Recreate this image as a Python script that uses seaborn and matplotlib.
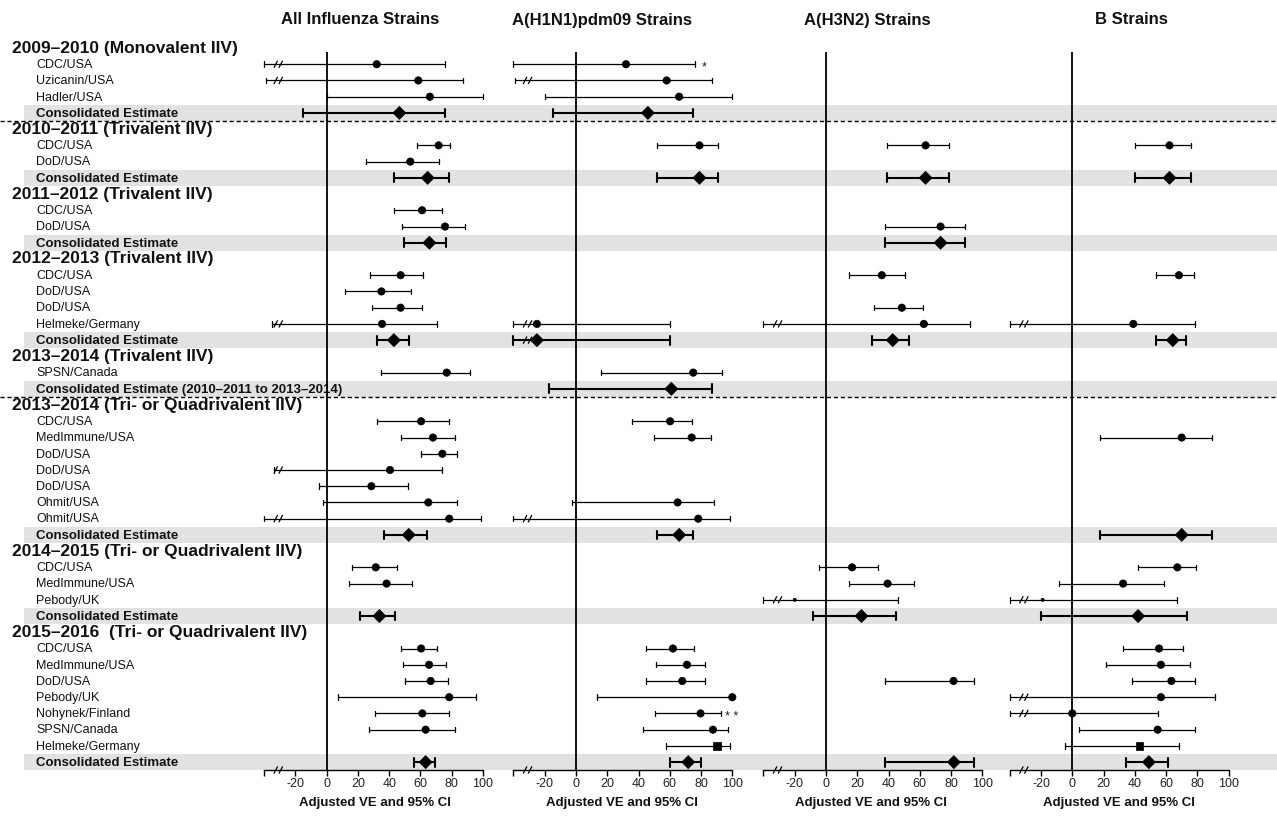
import numpy as np
import pandas as pd
import matplotlib
matplotlib.use("Agg")
import matplotlib.pyplot as plt
import seaborn as sns

# ---------------- data ----------------
row_labels = [
    "2009\u20132010 (Monovalent IIV)", "CDC/USA", "Uzicanin/USA", "Hadler/USA", "Consolidated Estimate",
    "2010\u20132011 (Trivalent IIV)", "CDC/USA", "DoD/USA", "Consolidated Estimate",
    "2011\u20132012 (Trivalent IIV)", "CDC/USA", "DoD/USA", "Consolidated Estimate",
    "2012\u20132013 (Trivalent IIV)", "CDC/USA", "DoD/USA", "DoD/USA", "Helmeke/Germany", "Consolidated Estimate",
    "2013\u20132014 (Trivalent IIV)", "SPSN/Canada", "Consolidated Estimate (2010\u20132011 to 2013\u20132014)",
    "2013\u20132014 (Tri- or Quadrivalent IIV)", "CDC/USA", "MedImmune/USA", "DoD/USA", "DoD/USA", "DoD/USA",
    "Ohmit/USA", "Ohmit/USA", "Consolidated Estimate",
    "2014\u20132015 (Tri- or Quadrivalent IIV)", "CDC/USA", "MedImmune/USA", "Pebody/UK", "Consolidated Estimate",
    "2015\u20132016  (Tri- or Quadrivalent IIV)", "CDC/USA", "MedImmune/USA", "DoD/USA", "Pebody/UK",
    "Nohynek/Finland", "SPSN/Canada", "Helmeke/Germany", "Consolidated Estimate",
]
header_rows = [0, 5, 9, 13, 19, 22, 31, 36]
consol_rows = [4, 8, 12, 18, 21, 30, 35, 44]
dashed_after = [4, 21]

panel_titles = ["All Influenza Strains", "A(H1N1)pdm09 Strains", "A(H3N2) Strains", "B Strains"]

all_rows = [1, 2, 3, 4, 6, 7, 8, 10, 11, 12, 14, 15, 16, 17, 18, 20, 23, 24, 25, 26, 27, 28, 29, 30,
            32, 33, 35, 37, 38, 39, 40, 41, 42, 44]
all_ve = [32, 58.6, 66, 46.5, 71.6, 53.5, 64.6, 61, 75.7, 65.7, 47.3, 35, 47.3, 35.4, 43, 76.8,
          60.4, 68, 74, 40.5, 28.6, 65, 78.4, 52.5, 31.4, 38.3, 33.7, 60.4, 65.5, 66.5, 78.4, 61.2, 63.3, 63.3]
all_lo = [-40, -39, 0.5, -15, 58, 25, 43, 43, 48.4, 49.5, 28, 12, 29, -35, 32, 35,
          32.4, 47.7, 60.4, -34, -4.7, -2.5, -40, 36.4, 16.5, 14.2, 21.6, 47.7, 48.5, 50.2, 7.2, 31, 27.3, 56]
all_hi = [76, 87, 100, 75.5, 79, 71.6, 78.5, 74, 88.7, 76.3, 61.6, 53.7, 60.8, 70.6, 52.5, 91.7,
          78, 81.8, 83.5, 73.5, 51.7, 83.5, 98.7, 64.4, 44.7, 54.7, 43.9, 70.3, 76.5, 77.5, 95.8, 78.4, 81.8, 69.5]
all_brk = [1, 2, 17, 26, 29]

h1_rows = [1, 2, 3, 4, 6, 8, 17, 18, 20, 21, 23, 24, 28, 29, 30, 37, 38, 39, 40, 41, 42, 43, 44]
h1_ve = [32, 58, 66, 46, 79, 79, -25, -25, 75, 61, 60.2, 74, 65, 78.2, 66, 62, 71, 68, 100, 79.7, 87.6, 90.2, 71.8]
h1_lo = [-40, -39, -20, -15, 51.8, 51.8, -40, -40, 16, -17, 36, 50, -2.8, -40, 52, 44.5, 51.3, 44.5, 13.4, 50.5, 43, 57.6, 60]
h1_hi = [76, 87, 99.6, 75, 91, 91, 60, 60, 93.4, 87, 74, 86.2, 88, 98.3, 75, 75.4, 82.4, 82.4, 100, 92.5, 97, 98.5, 79.9]
h1_brk = [2, 17, 18, 29]

h3_rows = [6, 8, 11, 12, 14, 16, 17, 18, 32, 33, 34, 35, 39, 44]
h3_ve = [63.7, 63.7, 73.3, 73.3, 35.7, 48.5, 62.6, 42.7, 16.7, 39.4, -20, 22.7, 81.6, 81.8]
h3_lo = [39.3, 39.3, 37.6, 37.6, 14.5, 30.5, -40, 29.5, -4.7, 14.8, -40, -8.3, 37.7, 37.5]
h3_hi = [78.6, 78.6, 88.7, 88.7, 50.6, 62, 91.9, 52.8, 33, 56.5, 46, 44.7, 94.4, 94.4]
h3_brk = [17, 34]

b_rows = [6, 8, 14, 17, 18, 24, 30, 32, 33, 34, 35, 37, 38, 39, 40, 41, 42, 43, 44]
b_ve = [62.2, 62.2, 68.2, 39, 64.3, 70, 70, 67.2, 32.5, -19, 42.1, 55.5, 56.7, 63.4, 56.7, 0, 54.6, 43, 49]
b_lo = [40.2, 40.2, 53.8, -40, 53.8, 18, 18, 42.2, -8.6, -40, -20, 32.3, 21.4, 38.3, -40, -40, 4.5, -4.7, 34.5]
b_hi = [76, 76, 77.6, 78.2, 72.9, 89.3, 89.3, 79.4, 58.5, 67, 73.1, 70.7, 75.5, 78.4, 91.6, 54.6, 78.4, 68.3, 61]
b_brk = [17, 34, 40, 41]

square_rows = {1: [43], 3: [43]}
tiny_rows = {2: [34], 3: [34]}
asterisks = {1: [(1, 80.5, "*"), (41, 95.5, "* *")]}

xticks = [-40, -20, 0, 20, 40, 60, 80, 100]
xticklabels = ["", "-20", "0", "20", "40", "60", "80", "100"]

# ---------------- layout ----------------
sns.set_theme(style="white")
plt.rcParams["font.family"] = ["Liberation Sans", "DejaVu Sans"]

W, H = 1277, 817
ROW0, DY = 48.0, 16.23
fig = plt.figure(figsize=(W / 100, H / 100), dpi=100)

bg = fig.add_axes([0, 0, 1, 1])
bg.set_xlim(0, W)
bg.set_ylim((H - ROW0) / DY, -ROW0 / DY)
bg.axis("off")
bg.set_zorder(0)

band_color = "#e2e2e2"
for r in consol_rows:
    bg.fill_between([24, W], r - 0.48, r + 0.48, color=band_color, lw=0, zorder=0)
for r in dashed_after:
    bg.plot([0, W], [r + 0.5, r + 0.5], color="black", lw=1.0, ls=(0, (3, 2)), zorder=1)

for i, lab in enumerate(row_labels):
    if i in header_rows:
        bg.text(12, i, lab, fontsize=12.5, fontweight="bold", va="center", ha="left", color="#111")
    elif i in consol_rows:
        bg.text(36, i + 0.05, lab, fontsize=9.5, fontweight="bold", va="center", ha="left", color="#111")
    else:
        bg.text(36, i + 0.05, lab, fontsize=9, va="center", ha="left", color="#111")

zeros_px = [326.7, 576.0, 826.0, 1072.3]
scale = 1.563
xmin, xmax = -45, 115
top_px, bot_px = 52.0, 770.0
title_px = [360, 602, 867, 1131]
xlabel_px = [375, 622, 871, 1119]

panels = [
    (all_rows, all_ve, all_lo, all_hi, all_brk),
    (h1_rows, h1_ve, h1_lo, h1_hi, h1_brk),
    (h3_rows, h3_ve, h3_lo, h3_hi, h3_brk),
    (b_rows, b_ve, b_lo, b_hi, b_brk),
]

y_bot = (bot_px - ROW0) / DY
y_top = (top_px - ROW0) / DY

def slash_pair(ax, xc, y, lw, h=0.22):
    for dx in (-1.6, 1.6):
        ax.plot([xc + dx - 1.2, xc + dx + 1.2], [y + h, y - h], color="black", lw=lw,
                clip_on=False, zorder=6, solid_capstyle="butt")

for p, (rows, ve, lo, hi, brk) in enumerate(panels):
    left = zeros_px[p] + xmin * scale
    width = (xmax - xmin) * scale
    ax = fig.add_axes([left / W, (H - bot_px) / H, width / W, (bot_px - top_px) / H])
    ax.set_facecolor("none")
    ax.set_zorder(2)
    ax.set_xlim(xmin, xmax)
    ax.set_ylim(y_bot, y_top)

    kinds = []
    for r in rows:
        if r in consol_rows:
            kinds.append("consol")
        elif r in square_rows.get(p, []):
            kinds.append("square")
        elif r in tiny_rows.get(p, []):
            kinds.append("tiny")
        else:
            kinds.append("study")
    df = pd.DataFrame({"row": rows, "ve": ve, "lo": lo, "hi": hi, "kind": kinds})

    ax.axvline(0, color="black", lw=1.3, zorder=3)

    for _, d in df.iterrows():
        c = d["kind"] == "consol"
        lw = 1.5 if c else 0.9
        capw = 0.27 if c else 0.17
        ax.plot([d["lo"], d["hi"]], [d["row"], d["row"]], color="black", lw=lw, zorder=4,
                solid_capstyle="butt")
        ax.plot([d["lo"], d["lo"]], [d["row"] - capw, d["row"] + capw], color="black", lw=lw, zorder=4)
        ax.plot([d["hi"], d["hi"]], [d["row"] - capw, d["row"] + capw], color="black", lw=lw, zorder=4)
        if d["row"] in brk:
            slash_pair(ax, -31, d["row"], 0.9)

    sns.scatterplot(data=df, x="ve", y="row", style="kind", size="kind",
                    markers={"study": "o", "consol": "D", "square": "s", "tiny": "o"},
                    sizes={"study": 28, "consol": 44, "square": 28, "tiny": 5},
                    color="black", edgecolor="black", linewidth=0.5, legend=False, ax=ax, zorder=5)
    ax.set_ylim(y_bot, y_top)

    for (r, xv, s) in asterisks.get(p, []):
        ax.text(xv, r + 0.2, s, fontsize=9, ha="left", va="center", color="#222")

    for side in ["top", "right", "left"]:
        ax.spines[side].set_visible(False)
    ax.spines["bottom"].set_bounds(-40, 100)
    ax.spines["bottom"].set_color("black")
    ax.spines["bottom"].set_linewidth(1.0)
    ax.set_xticks(xticks)
    ax.set_xticklabels(xticklabels)
    ax.set_yticks([])
    ax.tick_params(axis="x", direction="out", length=4, width=1.0, color="black",
                   labelsize=9, labelcolor="#222", pad=2, bottom=True)
    ax.set_xlabel("")
    ax.set_ylabel("")
    slash_pair(ax, -31, y_bot, 0.9)

    fig.text(title_px[p] / W, 1 - 20 / H, panel_titles[p], fontsize=12, fontweight="bold",
             ha="center", va="center", color="#111")
    fig.text(xlabel_px[p] / W, 1 - 803 / H, "Adjusted VE and 95% CI", fontsize=9.5,
             fontweight="bold", ha="center", va="center", color="#111")

fig.savefig("out.png", dpi=100)
